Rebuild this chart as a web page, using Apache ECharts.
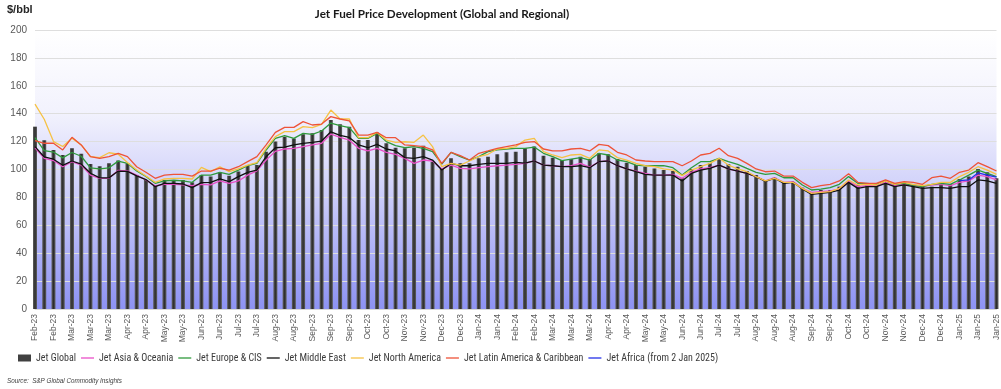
<!DOCTYPE html>
<html>
<head>
<meta charset="utf-8">
<script src="https://cdn.jsdelivr.net/npm/echarts@6/dist/echarts.min.js"></script>
<style>
html,body{margin:0;padding:0;background:#fff;}
#chart{width:1001px;height:389px;}
</style>
</head>
<body>
<div id="chart"></div>
<script>
// Tick labels (one every second weekly point)
var tickLabels = ['Feb-23','Feb-23','Mar-23','Mar-23','Mar-23','Apr-23','Apr-23','May-23','May-23','Jun-23','Jun-23','Jul-23','Jul-23','Aug-23','Aug-23','Sep-23','Sep-23','Sep-23','Oct-23','Oct-23','Nov-23','Nov-23','Dec-23','Dec-23','Jan-24','Jan-24','Feb-24','Feb-24','Mar-24','Mar-24','Mar-24','Apr-24','Apr-24','May-24','May-24','Jun-24','Jun-24','Jul-24','Jul-24','Aug-24','Aug-24','Aug-24','Sep-24','Sep-24','Oct-24','Oct-24','Nov-24','Nov-24','Dec-24','Dec-24','Jan-25','Jan-25','Jan-25'];

var jetGlobal = [
130.7,121,114,110.4,115.2,111.3,103.9,102.4,104.5,106.5,
104.4,96,92.5,88.9,92.5,92.5,92.5,90.8,96,94.9,
98,95.6,98.5,102.5,103.2,112.8,120,123.5,122.3,125.2,
125.9,128.3,135.5,132.4,130.7,121.1,121.1,126.6,118.8,115.6,
115.2,115.6,117.1,105.6,100.4,108,104.4,104.4,108,109.2,
110.9,112.3,112.8,115.2,116.4,109.9,108.5,106.8,107.5,109.2,
107.5,111.6,110.9,107.5,104.9,103.2,102,100.8,99.6,98.9,
93.7,100.4,103.2,104.4,107.5,103.7,102,98.9,96,92.5,
94.1,90.8,90.8,87,83.6,85.3,85.3,87.7,90.8,88.9,
89.4,88.9,90.1,88.9,90.1,88.9,87.7,87.7,90.1,89.4,
93.2,94.9,100.4,98,93.7];

var jetAsia = [
115.6,108,106.4,102,105.6,103.2,96,93.7,93.7,99.4,
99,96,92.5,88.4,89.4,89.4,89,88.4,89.4,89,
91.8,90.1,91.8,96,99,106.8,113,114.7,115.2,116.4,
117.6,118.8,125.4,123,121,115.2,113.3,115.2,112.3,110.9,
108,104.4,106.8,106.1,100.4,103.2,100.8,100.4,101.3,102,
102.7,103.2,103.7,104.4,106.1,103.2,102.7,102,102.7,104.4,
101.7,105.6,106.1,102.7,100.4,98.9,97.2,96,96,96.5,
93.7,98,100.4,101.3,103.2,100.4,98.9,97.2,94.9,91.8,
94.1,90.8,91.3,86.5,83.6,84.1,84.6,86,91.8,87.7,
88.4,88.4,90.8,88.4,89.4,88.4,87.7,88.9,89.4,88.4,
90.8,91.8,96,94.9,92.5];

var jetEurope = [
122.8,113.5,112.5,108.3,112.2,109.5,101.2,100.5,101.2,106,
104.4,98.9,95,90.1,91.8,92.3,91.8,90.8,96,96,
98,96.5,99.6,102.8,104.4,114,122.3,124.2,122.3,125.9,
125.2,127.6,133.3,131.4,130,122.3,122.3,125.9,120,117.1,
115.6,116.4,115.2,112.8,103.9,112.3,109.2,106.8,109.2,112.8,
114,114.7,115.2,115.2,116.1,111.6,109.2,106.3,107.5,108.5,
106.8,111.6,110.4,106.8,105.6,103.2,102.7,102.7,102.7,101.3,
96,101.3,105.6,105.6,108,105.6,103.7,100.8,98,96.5,
97.2,94.1,94.1,88.9,85.3,86,87,89.4,94.9,90.1,
90.1,89.4,91.8,89.4,90.1,88.4,87.7,89.4,90.1,89.4,
92.5,96,99.6,97.2,94.9];

var jetMiddleEast = [
116.4,109,107.4,103,106.1,103.8,97.3,94,94,98.9,
98.7,95.4,92.8,87.7,90.1,90.1,89.6,87,90.6,90.8,
93.2,91.3,94.9,98,99.6,109.2,115.6,116,117.6,118.8,
119.5,120.4,127,124.5,123,117.6,115.6,118,114.7,113.3,
108.5,108,109.2,106.8,99.6,104.4,102.7,102.7,103.7,104.4,
104.4,104.4,105.1,104.6,106.1,103.2,102.7,102,102,102.7,
101.3,105.6,106.1,102.7,100.4,98.4,96.5,96,96,96,
91.8,97.2,99.6,100.8,103.2,100.4,98.9,97.2,94.9,91.5,
93.7,90.1,90.8,86,82.2,82.9,83.6,85.3,90.8,86.5,
87.7,87.7,90.1,87.7,88.9,87.7,86.5,87,87,86.5,
87.7,87.7,92.5,91.8,90.1];

var jetNorthAmerica = [
146.8,136,120,116.5,122.5,117.6,109.2,108.5,112,111,
105,99.6,95.3,90.8,93.2,93.7,93.7,93.2,101.5,98.5,
102,98.5,100.4,103.2,104.9,115.2,123.6,127.1,127.1,130.7,
130,132.4,142.6,136.2,136.2,122.8,122.8,126.6,121.1,119.5,
119.9,119.5,124.7,116.4,102,104.4,103.2,106.1,109.2,110.9,
114.7,115.2,116.4,121.1,122.3,112.8,110.4,108.5,110.4,110.9,
108,114,113.3,108.5,106.8,104.4,102.7,102,100.4,99.6,
95.6,99.6,102,104.4,108,103.2,100.4,98.4,94.9,91.8,
93.7,90.8,90.8,86.5,82.9,83.6,84.1,86.5,92.5,88.9,
89.4,88.9,91.8,89.4,90.8,89.4,88.4,89.4,90.8,90.8,
94.9,98,102,99.6,96.5];

var jetLatinAmerica = [
120.7,118.8,118.8,114,123.1,117.6,109.2,108,109.2,111.6,
109.2,102,98,93.7,96,96.5,96.5,95.3,98.9,98.9,
100.9,99.6,102,105.6,109.2,117.6,126.6,130.2,130.2,134.3,
131.9,132.6,137.9,136.2,134.8,124.7,124.7,126.6,122.8,122.8,
117.6,117.1,116.4,114,104.4,112.3,109.9,106.8,111.6,113.3,
115.2,116.4,117.6,119.4,120,114.7,113.3,113.3,114.7,115.2,
113.3,118,117.1,112.3,110.4,106.8,106.1,105.6,105.6,105.6,
102.7,106.1,110.4,111.6,115.2,109.9,108,104.4,100.4,98.4,
98.9,95.3,95.3,90.8,87,88.4,89.4,91.8,97,90.8,
90.1,90.1,92.5,90.1,91.3,90.8,89.4,94.1,95.3,93.7,
98,99.6,104.9,102,98.9];

// Jet Africa starts on 2 Jan 2025 (last five weekly points)
var jetAfricaStart = 100;
var jetAfricaValues = [92, 92.5, 97.5, 96, 94.5];

var categories = [];
for (var i = 0; i < jetGlobal.length; i++) categories.push(tickLabels[Math.floor(i / 2)]);
var jetAfrica = categories.map(function (c, i) {
  return i >= jetAfricaStart ? jetAfricaValues[i - jetAfricaStart] : null;
});

var chart = echarts.init(document.getElementById('chart'), null, {renderer: 'canvas'});
var fam = '"Liberation Sans", Arial, sans-serif';
var narrow = '"Liberation Sans Narrow", "Roboto Condensed", "Liberation Sans", Arial, sans-serif';
var lineIcon = 'path://M0,0H20V2H0Z';
function line(name, data, color, z) {
  return {name: name, type: 'line', data: data, symbol: 'none', z: z,
    lineStyle: {color: color, width: 1.3}, itemStyle: {color: color}};
}
chart.setOption({
  animation: false,
  textStyle: {fontFamily: fam},
  grid: {left: 35, right: 4, top: 30, bottom: 80, show: true, borderWidth: 0,
    backgroundColor: new echarts.graphic.LinearGradient(0, 0, 0, 1, [
      {offset: 0, color: '#ffffff'},
      {offset: 0.3, color: '#f2f2fd'},
      {offset: 0.55, color: '#d2d3fa'},
      {offset: 1, color: '#8d92f3'}
    ])},
  graphic: [
    {type: 'text', left: 7, top: 4, style: {text: '$/bbl', font: 'bold 11px ' + fam, fill: '#262626'}},
    {type: 'text', x: 442, y: 14, style: {text: 'Jet Fuel Price Development (Global and Regional)', font: 'bold 11.7px Lato, ' + fam, fill: '#1a1a1a', textAlign: 'center', textVerticalAlign: 'middle'}},
    {type: 'text', left: 7, top: 378, style: {text: 'Source:  S&P Global Commodity Insights', font: 'italic 6.3px ' + fam, fill: '#404040'}}
  ],
  legend: {
    left: 18, top: 353, padding: 0, itemGap: 5, itemWidth: 13, itemHeight: 7,
    textStyle: {fontSize: 10, color: '#3a3a3a', fontFamily: narrow},
    data: [
      {name: 'Jet Global', icon: 'rect', itemStyle: {color: '#404040'}},
      {name: 'Jet Asia & Oceania', icon: lineIcon},
      {name: 'Jet Europe & CIS', icon: lineIcon},
      {name: 'Jet Middle East', icon: lineIcon},
      {name: 'Jet North America', icon: lineIcon},
      {name: 'Jet Latin America & Caribbean', icon: lineIcon},
      {name: 'Jet Africa (from 2 Jan 2025)', icon: lineIcon}
    ]
  },
  xAxis: {
    type: 'category', data: categories, boundaryGap: false,
    axisLine: {show: true, lineStyle: {color: '#d9d9d9'}},
    axisTick: {show: false},
    axisLabel: {interval: 1, rotate: 90, fontSize: 8.5, color: '#595959', margin: 5, fontFamily: fam},
    splitLine: {show: false}
  },
  yAxis: {
    type: 'value', min: 0, max: 200, interval: 20,
    axisLine: {show: false}, axisTick: {show: false},
    axisLabel: {fontSize: 10, color: '#595959', margin: 8, fontFamily: fam},
    splitLine: {lineStyle: {color: '#dedede', width: 1}}
  },
  series: [
    {name: 'Jet Global', type: 'bar', data: jetGlobal, barWidth: 4, z: 1,
      itemStyle: {color: new echarts.graphic.LinearGradient(0, 0, 1, 0, [
        {offset: 0, color: '#626262'}, {offset: 0.5, color: '#2c2c2c'}, {offset: 1, color: '#626262'}])}},
    line('Jet Asia & Oceania', jetAsia, '#ea4fc7', 3),
    line('Jet Europe & CIS', jetEurope, '#2f9a3c', 4),
    line('Jet Middle East', jetMiddleEast, '#111111', 5),
    line('Jet North America', jetNorthAmerica, '#f6c244', 6),
    line('Jet Latin America & Caribbean', jetLatinAmerica, '#ee5338', 7),
    line('Jet Africa (from 2 Jan 2025)', jetAfrica, '#2430e8', 8)
  ]
});
</script>
</body>
</html>
